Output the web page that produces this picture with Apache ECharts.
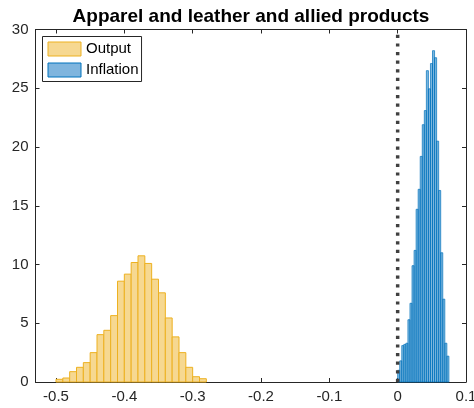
<!DOCTYPE html>
<html><head><meta charset="utf-8">
<script src="https://cdn.jsdelivr.net/npm/echarts@6/dist/echarts.min.js"></script>
<style>html,body{margin:0;padding:0;background:#fff}#c{width:474px;height:408px}</style>
</head><body><div id="c"></div>
<script>
const titleText = 'Apparel and leather and allied products';
const seriesNames = ['Output', 'Inflation'];

const outputBinStart = -0.5;
const outputBinWidth = 0.01;
const outputCounts = [0.23, 0.34, 0.88, 1.25, 1.65, 2.5, 4.03, 4.4, 5.65, 8.58, 9.18,
                      10.17, 10.74, 10.09, 8.75, 7.59, 5.45, 3.84, 2.5, 1.25, 0.45, 0.28];

const inflationBinStart = 0;
const inflationBinWidth = 0.003;
const inflationCounts = [1.0, 1.8, 3.1, 3.2, 3.3, 5.3, 6.7, 9.9, 11.2, 14.7, 16.4, 19.2,
                         21.9, 23.1, 26.5, 24.95, 27.1, 28.2, 27.6, 20.5, 16.3, 11.0, 7.05, 3.3, 2.2];

const xTicks = [-0.5, -0.4, -0.3, -0.2, -0.1, 0, 0.1];
const xTickLabels = ['-0.5', '-0.4', '-0.3', '-0.2', '-0.1', '0', '0.1'];
const yTicks = [0, 5, 10, 15, 20, 25, 30];
const zeroLine = [[0, 0], [0, 30]];

function toBins(start, width, counts) {
  return counts.map((c, i) => [start + i * width, start + (i + 1) * width, c]);
}

const AX = '#262626';
const outputStyle = { fill: '#F6D891', stroke: '#EDB120', lineWidth: 1 };
const inflationStyle = { fill: 'rgba(0,114,189,0.5)', stroke: '#0072BD', lineWidth: 0.7 };

function makeRender(style) {
  return function (params, api) {
    const p0 = api.coord([api.value(0), api.value(2)]);
    const p1 = api.coord([api.value(1), 0]);
    return {
      type: 'rect',
      shape: { x: p0[0], y: p0[1], width: p1[0] - p0[0], height: p1[1] - p0[1] },
      style: style
    };
  };
}

function xLabel(v) {
  for (let i = 0; i < xTicks.length; i++) if (Math.abs(v - xTicks[i]) < 1e-9) return xTickLabels[i];
  return '';
}

const chart = echarts.init(document.getElementById('c'), null, { renderer: 'canvas' });
const font = 'Liberation Sans, Arial, Helvetica, sans-serif';
chart.setOption({
  animation: false,
  backgroundColor: '#fff',
  title: {
    text: titleText, left: 246, top: 2, textAlign: 'center',
    textStyle: { fontFamily: font, fontWeight: 'bold', fontSize: 19, color: '#000' }
  },
  legend: {
    orient: 'vertical', left: 42.5, top: 36.5,
    padding: [5, 3, 4, 5], itemGap: 6, itemWidth: 33, itemHeight: 14,
    borderColor: AX, borderWidth: 1, backgroundColor: '#fff',
    textStyle: { fontFamily: font, fontSize: 15, color: '#000' },
    data: [
      { name: seriesNames[0], icon: 'rect', itemStyle: { color: '#F6D891', borderColor: '#EDB120', borderWidth: 1 } },
      { name: seriesNames[1], icon: 'rect', itemStyle: { color: '#7FB5DE', borderColor: '#0072BD', borderWidth: 1 } }
    ]
  },
  grid: { left: 35.5, right: 8, top: 29.5, bottom: 26, containLabel: false, outerBoundsMode: 'none' },
  xAxis: [
    {
      type: 'value', min: -0.53, max: 0.1, position: 'bottom',
      axisLine: { show: true, onZero: false, lineStyle: { color: AX, width: 1 } },
      axisTick: { show: true, inside: true, length: 4, customValues: xTicks, lineStyle: { color: AX } },
      axisLabel: { customValues: xTicks, formatter: xLabel, color: AX, fontSize: 15, fontFamily: font, margin: 7 },
      splitLine: { show: false }
    },
    {
      type: 'value', min: -0.53, max: 0.1, position: 'top',
      axisLine: { show: true, onZero: false, lineStyle: { color: AX, width: 1 } },
      axisTick: { show: true, inside: true, length: 4, customValues: xTicks, lineStyle: { color: AX } },
      axisLabel: { show: false },
      splitLine: { show: false }
    }
  ],
  yAxis: [
    {
      type: 'value', min: 0, max: 30, interval: 5, position: 'left',
      axisLine: { show: true, onZero: false, lineStyle: { color: AX, width: 1 } },
      axisTick: { show: true, inside: true, length: 4, lineStyle: { color: AX } },
      axisLabel: { color: AX, fontSize: 15, fontFamily: font, margin: 7 },
      splitLine: { show: false }
    },
    {
      type: 'value', min: 0, max: 30, interval: 5, position: 'right',
      axisLine: { show: true, onZero: false, lineStyle: { color: AX, width: 1 } },
      axisTick: { show: true, inside: true, length: 4, lineStyle: { color: AX } },
      axisLabel: { show: false },
      splitLine: { show: false }
    }
  ],
  series: [
    {
      name: seriesNames[0], type: 'custom', xAxisIndex: 0, yAxisIndex: 0,
      itemStyle: { color: '#F6D891', borderColor: '#EDB120' },
      renderItem: makeRender(outputStyle),
      encode: { x: [0, 1], y: 2 },
      data: toBins(outputBinStart, outputBinWidth, outputCounts)
    },
    {
      name: seriesNames[1], type: 'custom', xAxisIndex: 0, yAxisIndex: 0,
      itemStyle: { color: '#7FB5DE', borderColor: '#0072BD' },
      renderItem: makeRender(inflationStyle),
      encode: { x: [0, 1], y: 2 },
      data: toBins(inflationBinStart, inflationBinWidth, inflationCounts)
    },
    {
      name: 'zero', type: 'line', xAxisIndex: 0, yAxisIndex: 0,
      symbol: 'none', silent: true,
      lineStyle: { color: '#404040', width: 3.5, type: [3.2, 5.4], cap: 'butt' },
      data: zeroLine, z: 5
    }
  ]
});
</script>
</body></html>
